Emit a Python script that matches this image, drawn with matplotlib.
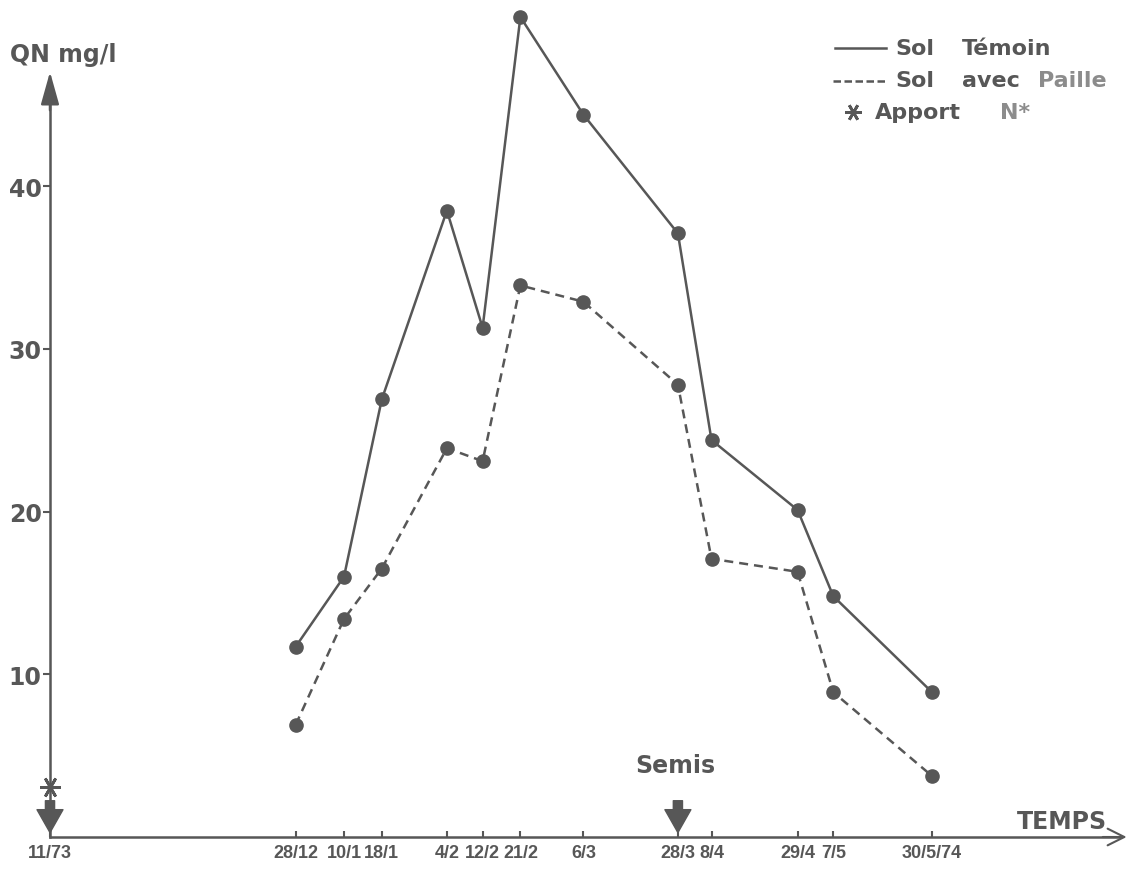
import matplotlib.pyplot as plt
from matplotlib.lines import Line2D

# sampling dates; position along the time axis (days after 1/11/73) as drawn in the figure
date_labels = ['11/73', '28/12', '10/1', '18/1', '4/2', '12/2', '21/2', '6/3',
               '28/3', '8/4', '29/4', '7/5', '30/5/74']
date_days = [0, 58.5, 70, 79, 94.5, 103, 112, 127, 149.5, 157.5, 178, 186.5, 210]
sample_days = date_days[1:]
sol_temoin = [11.7, 16.0, 26.9, 38.5, 31.3, 50.4, 44.4, 37.1, 24.4, 20.1, 14.8, 8.9]
sol_paille = [6.9, 13.4, 16.5, 23.9, 23.1, 33.9, 32.9, 27.8, 17.1, 16.3, 8.9, 3.75]
y_ticks = [10, 20, 30, 40]
apport_day = 0
semis_day = 149.5

GREY = '#575757'
LIGHT = '#8c8c8c'

# page layout (pixels)
W, H = 1135, 870
x0_px, px_per_day = 50, 4.2
y0_px, px_per_unit = 838, 16.27

def fx(px):
    return px / W

def fy(py):
    return 1 - py / H

plt.rcParams['font.family'] = ['DejaVu Sans']
plt.rcParams['font.weight'] = 'bold'

fig = plt.figure(figsize=(W / 100, H / 100), dpi=100)
ax = fig.add_axes([0, 0, 1, 1])
ax.set_xlim(-x0_px / px_per_day, (W - x0_px) / px_per_day)
ax.set_ylim(-(H - y0_px) / px_per_unit, y0_px / px_per_unit)

# axes drawn through the origin
for s in ['top', 'right']:
    ax.spines[s].set_visible(False)
ax.spines['left'].set_position(('data', 0))
ax.spines['bottom'].set_position(('data', 0))
ax.spines['left'].set_bounds(0, 46.0)
ax.spines['bottom'].set_bounds(0, 255)
for s in ['left', 'bottom']:
    ax.spines[s].set_color(GREY)
    ax.spines[s].set_linewidth(1.8)

ax.set_xticks(date_days, date_labels)
ax.set_yticks(y_ticks)
ax.tick_params(axis='x', direction='in', length=4, width=1.5, color=GREY,
               labelsize=13, labelcolor=GREY, pad=5)
for lbl in ax.get_xticklabels():
    lbl.set_family(['Liberation Sans', 'DejaVu Sans'])
ax.tick_params(axis='y', direction='out', length=5, width=1.5, color=GREY,
               labelsize=17, labelcolor=GREY, pad=1)

# arrow heads on the axes
ax.annotate('', xy=(0, 47.2), xytext=(0, 44.5),
            arrowprops=dict(arrowstyle='-|>,head_length=1.0,head_width=0.28',
                            mutation_scale=20, color=GREY, lw=1.8))
ax.annotate('', xy=(257, 0), xytext=(250, 0),
            arrowprops=dict(arrowstyle='->,head_length=0.6,head_width=0.3',
                            mutation_scale=20, color=GREY, lw=1.5))

# data
ax.plot(sample_days, sol_temoin, color=GREY, lw=1.8, marker='o', ms=9.5,
        clip_on=False)
ax.plot(sample_days, sol_paille, color=GREY, lw=1.8, ls=(0, (3.6, 2.4)),
        marker='o', ms=9.5, clip_on=False)

# apport N* and semis markers
ax.plot(apport_day, 3.1, marker=(6, 2, 90), ms=15, mew=2, color=GREY)
for d in [apport_day, semis_day]:
    ax.annotate('', xy=(d, 0.1), xytext=(d, 2.4),
                arrowprops=dict(arrowstyle='simple,head_length=0.75,head_width=0.85,tail_width=0.3',
                                mutation_scale=22, fc=GREY, ec=GREY))
ax.text(semis_day - 0.5, 4.4, 'Semis', ha='center', va='center', fontsize=17, color=GREY)

ax.text(fx(10), fy(55), 'QN mg/l', transform=ax.transAxes, ha='left', va='center',
        fontsize=17, color=GREY)
ax.text(fx(1107), fy(822), 'TEMPS', transform=ax.transAxes, ha='right', va='center',
        fontsize=17, color=GREY)

# hand-drawn legend, top right
ax.add_line(Line2D([fx(835), fx(886)], [fy(49), fy(49)], transform=ax.transAxes,
                   color=GREY, lw=1.8))
ax.add_line(Line2D([fx(833), fx(886)], [fy(82), fy(82)], transform=ax.transAxes,
                   color=GREY, lw=1.8, ls=(0, (3.0, 1.4))))
legend_words = [
    (895, 49, 'Sol', GREY), (962, 49, 'Témoin', GREY),
    (895, 81, 'Sol', GREY), (962, 81, 'avec', GREY), (1038, 81, 'Paille', LIGHT),
    (875, 113, 'Apport', GREY), (1000, 113, 'N*', LIGHT),
]
for px, py, word, col in legend_words:
    ax.text(fx(px), fy(py), word, transform=ax.transAxes, va='center',
            fontsize=16, color=col)
ax.plot(fx(853), fy(113), marker=(6, 2, 90), ms=12, mew=2, color=GREY,
        transform=ax.transAxes)

fig.savefig('out.png', dpi=100)
